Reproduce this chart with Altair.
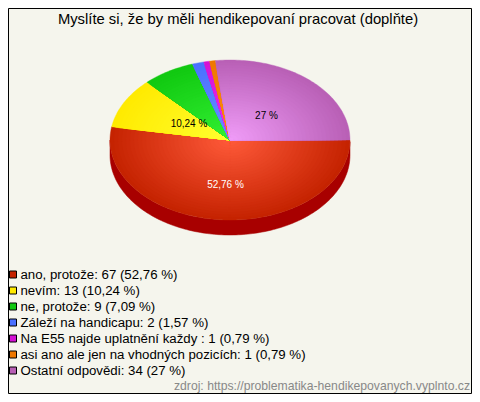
import math
import altair as alt
import pandas as pd

title = "Myslíte si, že by měli hendikepovaní pracovat (doplňte)"
source = "zdroj: https://problematika-hendikepovanych.vyplnto.cz"
names = ["ano, protože", "nevím", "ne, protože", "Záleží na handicapu",
         "Na E55 najde uplatnění každy ", "asi ano ale jen na vhodných pozicích", "Ostatní odpovědi"]
counts = [67, 13, 9, 2, 1, 1, 34]
shares = [52.76, 10.24, 7.09, 1.57, 0.79, 0.79, 27]
share_text = ["52,76 %", "10,24 %", "7,09 %", "1,57 %", "0,79 %", "0,79 %", "27 %"]
colors = ["#c42200", "#ffea00", "#10c810", "#4a70ff", "#d412d4", "#ee7700", "#b85fb5"]
centers = ["#ff5a3a", "#ffff30", "#33f033", "#6a90ff", "#ee30ee", "#ff9010", "#f09cf8"]
pie_labels = ["52,76 %", "10,24 %", "27 %"]
pie_label_colors = ["#ffffff", "#000000", "#000000"]
pie_label_x = [225.5, 189, 266.5]
pie_label_y = [185, 124, 116]

BG = "#f5f5ed"
CX, CY, RX, RY, DEPTH = 230, 140, 120, 80, 15
RINGS = 30
W, H = 464, 386


def pt(a, dy=0, f=1.0):
    return [round(CX + f * RX * math.cos(a), 2), round(CY + f * RY * math.sin(a) + dy, 2)]


def feature(ring, **props):
    return {"type": "Feature", "properties": props,
            "geometry": {"type": "Polygon", "coordinates": [ring]}}


def arc_pts(a0, a1, dy=0, f=1.0):
    n = max(2, int(abs(a1 - a0) / 0.02))
    return [pt(a0 + (a1 - a0) * i / n, dy, f) for i in range(n + 1)]


def mix(c0, c1, t):
    a = [int(c0[i:i + 2], 16) for i in (1, 3, 5)]
    b = [int(c1[i:i + 2], 16) for i in (1, 3, 5)]
    return "#%02x%02x%02x" % tuple(round(x + (y - x) * t) for x, y in zip(a, b))


slices = []
start = 0.0
total = sum(shares)
for s, c0, c1 in zip(shares, centers, colors):
    end = start + s / total * 2 * math.pi
    for k in range(RINGS, 0, -1):
        f = k / RINGS
        slices.append(feature([[CX, CY]] + arc_pts(start, end, 0, f) + [[CX, CY]],
                              shade=mix(c0, c1, (k - 0.5) / RINGS)))
    start = end

side = [feature(arc_pts(0, math.pi, DEPTH) + arc_pts(math.pi, 0), name="side")]
R, B = 8 + W, 8 + H
bounds = [feature([[8, 8], [R, 8], [R, B], [8, B], [8, 8]], name="bounds")]
frame = [feature([[8.5, 8.5], [R - 0.5, 8.5], [R - 0.5, B - 0.5], [8.5, B - 0.5], [8.5, 8.5]], name="frame")]

proj = dict(type="identity")
xs = alt.Scale(domain=[8, R], range=[0, W], zero=False, nice=False)
ys = alt.Scale(domain=[8, B], range=[0, H], zero=False, nice=False)
X = lambda f: alt.X(f, scale=xs, axis=None)
Y = lambda f: alt.Y(f, scale=ys, axis=None)


def geo(features):
    return alt.Data(values=features)


bounds_l = alt.Chart(geo(bounds)).mark_geoshape(fillOpacity=0, strokeWidth=0).project(**proj)
frame_l = alt.Chart(geo(frame)).mark_geoshape(filled=False, stroke="#000000", strokeWidth=1).project(**proj)
side_l = alt.Chart(geo(side)).mark_geoshape(fill="#a80000", stroke="#a80000", strokeWidth=0.5).project(**proj)
scale = alt.Scale(domain=names, range=colors)
slice_l = alt.Chart(geo(slices)).mark_geoshape(strokeWidth=0.4).encode(
    fill=alt.Fill("properties.shade:N", scale=None),
    stroke=alt.Stroke("properties.shade:N", scale=None),
).project(**proj)

pie_df = pd.DataFrame({"t": pie_labels, "c": pie_label_colors, "lon": pie_label_x, "lat": pie_label_y})
pie_text = alt.Chart(pie_df).mark_text(font="Liberation Sans", fontSize=10, align="center", baseline="middle").encode(
    x=X("lon:Q"), y=Y("lat:Q"), text="t:N", color=alt.Color("c:N", scale=None)
)

legend_df = pd.DataFrame({
    "name": names,
    "label": [f"{n}: {c} ({t})" for n, c, t in zip(names, counts, share_text)],
    "row": list(range(len(names))),
})
legend_base = alt.Chart(legend_df).transform_calculate(lat="274.5 + 16 * datum.row", tx="20.5", sx="13")
legend_sq = legend_base.mark_square(size=49, opacity=1, stroke="#000000", strokeWidth=1).encode(
    x=X("sx:Q"), y=Y("lat:Q"),
    fill=alt.Fill("name:N", scale=scale, legend=None),
)
legend_tx = legend_base.mark_text(font="Liberation Sans", fontSize=13.25, align="left", baseline="middle", color="#000000").encode(
    x=X("tx:Q"), y=Y("lat:Q"), text="label:N"
)

t_df = pd.DataFrame({"t": [title], "lon": [238], "lat": [20]})
title_l = alt.Chart(t_df).mark_text(font="Liberation Sans", fontSize=14.8, align="center", baseline="middle", color="#000000").encode(
    x=X("lon:Q"), y=Y("lat:Q"), text="t:N")
s_df = pd.DataFrame({"t": [source], "lon": [470], "lat": [385.5]})
source_l = alt.Chart(s_df).mark_text(font="Liberation Sans", fontSize=12.2, align="right", baseline="middle", color="#888888").encode(
    x=X("lon:Q"), y=Y("lat:Q"), text="t:N")

chart = alt.layer(bounds_l, frame_l, side_l, slice_l, pie_text, legend_sq, legend_tx, title_l, source_l).properties(
    width=W, height=H, background=BG, padding=0,
    autosize=alt.AutoSizeParams(type="none"),
).configure_view(stroke=None)

chart.save("out.html", embed_options={"renderer": "svg", "actions": False})
